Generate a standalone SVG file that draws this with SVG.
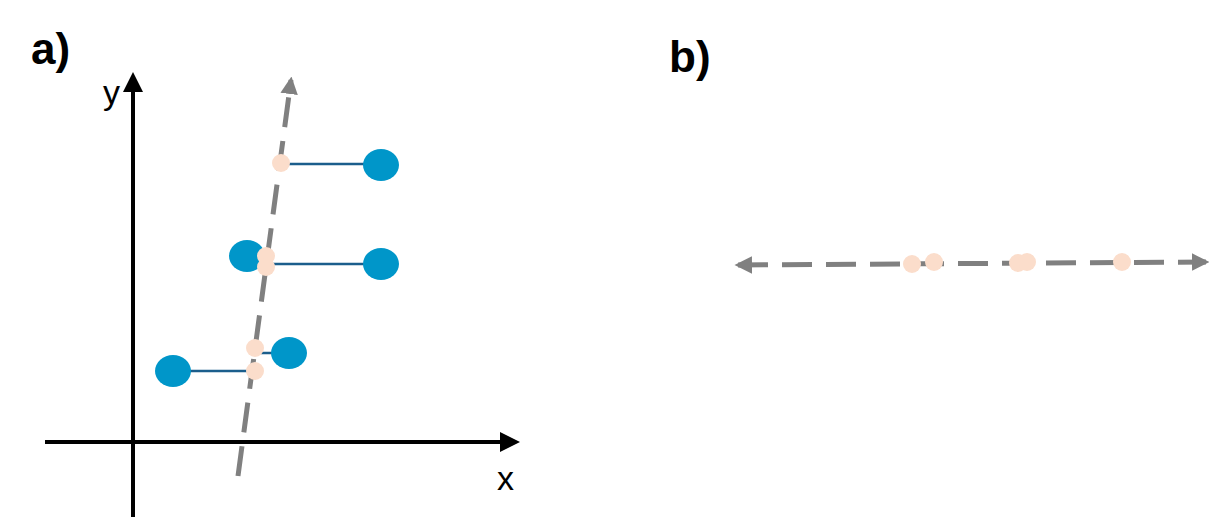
<svg xmlns="http://www.w3.org/2000/svg" width="1232" height="527" viewBox="0 0 1232 527">
<style>
.lbl{font-family:"Liberation Sans",Arial,sans-serif;font-weight:bold;font-size:44px;fill:#000}
.ax{font-family:"Liberation Sans",Arial,sans-serif;font-size:34px;fill:#000}
.blue{fill:#0096C9}
.bei{fill:#FBDDCB}
.lnk{stroke:#1B5E8C;stroke-width:2.5}
.dash{stroke:#808080;stroke-width:5;stroke-dasharray:30 14;fill:none}
</style>
<defs>
<marker id="ka" viewBox="0 0 10 10" refX="8" refY="5" markerWidth="5" markerHeight="5" orient="auto-start-reverse"><path d="M0,0L10,5L0,10z" fill="#000"/></marker>
<marker id="ga" viewBox="0 0 10 10" refX="8" refY="5" markerWidth="3.5" markerHeight="3.5" orient="auto-start-reverse"><path d="M0,0L10,5L0,10z" fill="#808080"/></marker>
</defs>
<text class="lbl" x="31" y="64">a)</text>
<text class="lbl" x="669" y="72">b)</text>
<g id="connectors">
<line x1="133" y1="517" x2="133" y2="76" stroke="#000" stroke-width="4" marker-end="url(#ka)"/>
<line x1="45" y1="442" x2="516" y2="442" stroke="#000" stroke-width="4" marker-end="url(#ka)"/>
<line class="dash" x1="238" y1="476" x2="291" y2="80" marker-end="url(#ga)"/>
<line class="lnk" x1="281" y1="164" x2="381" y2="164"/>
<line class="lnk" x1="266" y1="264" x2="381" y2="264"/>
<line class="lnk" x1="255" y1="353" x2="289" y2="353"/>
<line class="lnk" x1="173" y1="371" x2="255" y2="371"/>
<line class="dash" x1="738" y1="265" x2="1206" y2="262" marker-start="url(#ga)" marker-end="url(#ga)"/>
</g>
<text class="ax" x="103" y="104">y</text>
<text class="ax" x="497" y="490">x</text>
<g id="a-blue">
<ellipse class="blue" cx="381" cy="165" rx="18" ry="16"/>
<ellipse class="blue" cx="247" cy="256" rx="18" ry="16"/>
<ellipse class="blue" cx="381" cy="264" rx="18" ry="16"/>
<ellipse class="blue" cx="289" cy="353" rx="18" ry="16"/>
<ellipse class="blue" cx="173" cy="371" rx="18" ry="16"/>
</g>
<g id="a-proj">
<circle class="bei" cx="281" cy="163" r="9"/>
<circle class="bei" cx="266" cy="256" r="9"/>
<circle class="bei" cx="266" cy="267" r="9"/>
<circle class="bei" cx="255" cy="348" r="9"/>
<circle class="bei" cx="255" cy="371" r="9"/>
</g>
<g id="b-proj">
<circle class="bei" cx="912" cy="264" r="9"/>
<circle class="bei" cx="934" cy="262" r="9"/>
<circle class="bei" cx="1018" cy="263" r="9"/>
<circle class="bei" cx="1027" cy="262" r="9"/>
<circle class="bei" cx="1122" cy="262" r="9"/>
</g>
</svg>
